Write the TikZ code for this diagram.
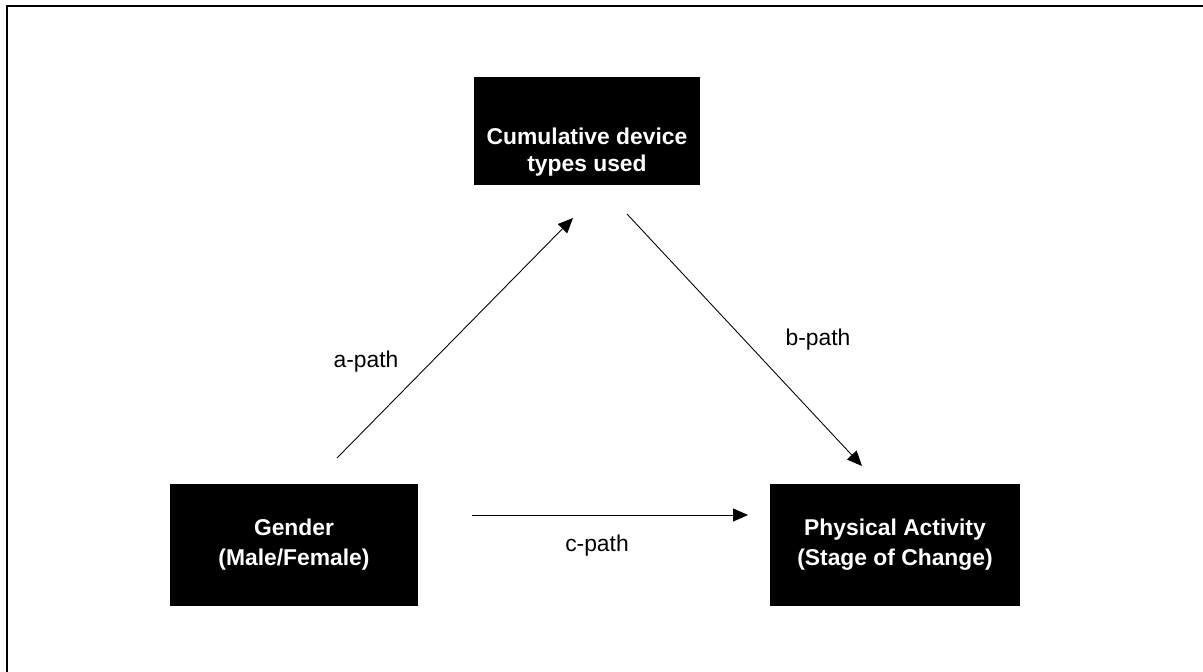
\documentclass[tikz,border=0pt]{standalone}
\usepackage{fontspec}
\setmainfont{Liberation Sans}
\usetikzlibrary{arrows.meta}
\begin{document}
\begin{tikzpicture}[x=0.02cm,y=-0.02cm,
    varbox/.style={fill=black, text=white, inner sep=0pt,
        font=\fontsize{13}{17}\selectfont\bfseries, align=center},
    pathline/.style={line width=0.5pt, -{Triangle[length=0.3cm,width=0.26cm]}},
    pathlabel/.style={font=\fontsize{13}{16}\selectfont}]
    \useasboundingbox (0,0) rectangle (1203,672);

    % outer frame, only top and left edge inside the picture
    \draw[line width=1.2pt] (7,672) -- (7,6) -- (1203,6);

    \node[varbox, minimum width=4.52cm, minimum height=2.18cm] (devices) at (587,131) {};
    \node[varbox, fill=none, font=\fontsize{13}{15}\selectfont\bfseries, yshift=-0.42cm] (devicestext) at (devices.center) {Cumulative device\\types used};

    \node[varbox, minimum width=4.98cm, minimum height=2.46cm] (gender) at (294,545) {Gender\\(Male/Female)};
    \node[varbox, minimum width=5.02cm, minimum height=2.46cm] (activity) at (895,545) {Physical Activity\\(Stage of Change)};

    \coordinate (atail) at (337,458);
    \coordinate (ahead) at (573,218);
    \coordinate (btail) at (627,214);
    \coordinate (bhead) at (862,466);
    \coordinate (ctail) at (472,515);
    \coordinate (chead) at (748,515);

    \draw[pathline] (atail) -- (ahead);
    \draw[pathline] (btail) -- (bhead);
    \draw[pathline] (ctail) -- (chead);

    \node[pathlabel] (alabel) at (366,362) {a-path};
    \node[pathlabel] (blabel) at (818,340) {b-path};
    \node[pathlabel] (clabel) at (597,546) {c-path};
\end{tikzpicture}
\end{document}
